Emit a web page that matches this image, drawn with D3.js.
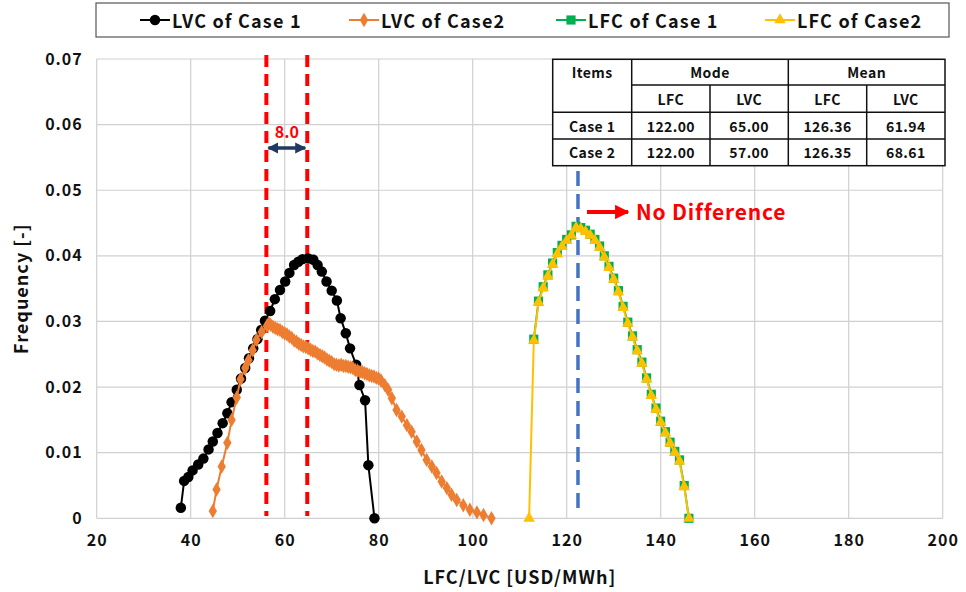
<!DOCTYPE html>
<html>
<head>
<meta charset="utf-8">
<script src="https://cdn.jsdelivr.net/npm/d3@7"></script>
<style>
  body { margin: 0; background: #fff; }
  svg { font-family: "Noto Sans CJK KR", "Open Sans", sans-serif; font-weight: 700; }
</style>
</head>
<body>
<div id="output"></div>
<script>
// LVC of Case 1 (black circles)
const lvc1X = [37.9, 38.6, 39.5, 40.4, 41.6, 42.7, 43.8, 44.7, 45.7, 46.8, 47.8, 48.7, 49.8, 50.7, 51.6, 52.4, 53.3, 54.2, 55.0, 55.8,
               56.9, 57.9, 59.0, 60.1, 61.0, 62.0, 62.9, 63.8, 65.0, 66.1, 67.0, 67.9, 68.9, 70.0, 71.1, 71.9, 73.0, 73.9, 75.2, 75.9,
               77.1, 77.8, 79.1];
const lvc1Y = [0.0016, 0.0057, 0.0063, 0.0073, 0.0082, 0.0091, 0.0105, 0.0117, 0.0130, 0.0145, 0.0160, 0.0177, 0.0196, 0.0213, 0.0229, 0.0244, 0.0259, 0.0273, 0.0287, 0.0301,
               0.0316, 0.0334, 0.0348, 0.0361, 0.0374, 0.0386, 0.0391, 0.0395, 0.0396, 0.0394, 0.0386, 0.0376, 0.0361, 0.0347, 0.0332, 0.0305, 0.0282, 0.0259, 0.0234, 0.0203,
               0.0180, 0.0081, 0.0000];

// LVC of Case2 (orange diamonds)
const lvc2X = [44.7, 45.5, 46.6, 47.8, 48.7, 49.8, 50.6, 51.6, 52.3, 53.2, 54.0, 55.1, 56.2, 56.6,
               57.0, 57.5, 58.0, 58.5, 59.0, 59.5, 60.0, 60.5, 61.0, 61.5, 62.0, 62.5, 63.0, 63.5, 64.0, 64.5,
               65.0, 65.5, 66.0, 66.5, 67.0, 67.5, 68.0, 68.5, 69.0, 69.5, 70.0, 70.5, 71.0, 71.5, 72.0, 72.5,
               73.0, 73.5, 74.0, 74.5, 75.0, 75.5, 76.0, 76.5, 77.0, 77.5, 78.0, 78.5, 79.0, 79.5, 80.0, 80.5,
               81.3, 82.0, 82.8, 83.8, 84.9, 86.0, 87.0, 88.1, 89.1, 90.2, 91.3, 92.3, 93.4, 94.5, 95.5, 96.6,
               98.0, 99.4, 100.9, 102.3, 104.0];
const lvc2Y = [0.0011, 0.0044, 0.0079, 0.0115, 0.0150, 0.0184, 0.0212, 0.0229, 0.0241, 0.0256, 0.0272, 0.0284, 0.0293, 0.0297,
               0.0295, 0.0292, 0.0290, 0.0288, 0.0287, 0.0284, 0.0282, 0.0280, 0.0277, 0.0275, 0.0271, 0.0269, 0.0266, 0.0264, 0.0262, 0.0261,
               0.0259, 0.0257, 0.0255, 0.0254, 0.0251, 0.0249, 0.0247, 0.0245, 0.0242, 0.0240, 0.0238, 0.0235, 0.0234, 0.0233, 0.0234, 0.0232,
               0.0232, 0.0231, 0.0230, 0.0229, 0.0226, 0.0225, 0.0223, 0.0223, 0.0221, 0.0220, 0.0218, 0.0217, 0.0216, 0.0214, 0.0213, 0.0210,
               0.0203, 0.0196, 0.0183, 0.0165, 0.0155, 0.0142, 0.0132, 0.0117, 0.0104, 0.0089, 0.0079, 0.0069, 0.0056, 0.0046, 0.0036, 0.0028,
               0.0020, 0.0013, 0.0009, 0.0005, 0.0000];

// LFC of Case 1 (green squares)
const lfc1X = [113, 114, 115, 116, 117, 118, 119, 120, 121, 122, 123, 124, 125, 126, 127, 128, 129, 130, 131, 132,
               133, 134, 135, 136, 137, 138, 139, 140, 141, 142, 143, 144, 145, 146];
const lfc1Y = [0.0273, 0.0331, 0.0353, 0.0371, 0.0389, 0.0405, 0.0416, 0.0425, 0.0432, 0.0445, 0.0443, 0.0439, 0.0433, 0.0425, 0.0415, 0.0400, 0.0384, 0.0366, 0.0347, 0.0323,
               0.0299, 0.0278, 0.0257, 0.0238, 0.0214, 0.0189, 0.0168, 0.0148, 0.0132, 0.0116, 0.0102, 0.0089, 0.0050, 0.0000];

// LFC of Case2 (yellow triangles)
const lfc2X = [112, 113, 114, 115, 116, 117, 118, 119, 120, 121, 122, 123, 124, 125, 126, 127, 128, 129, 130, 131, 132,
               133, 134, 135, 136, 137, 138, 139, 140, 141, 142, 143, 144, 145, 146];
const lfc2Y = [0.0000, 0.0271, 0.0329, 0.0351, 0.0369, 0.0387, 0.0403, 0.0414, 0.0423, 0.0431, 0.0443, 0.0441, 0.0437, 0.0431, 0.0423, 0.0413, 0.0398, 0.0382, 0.0364, 0.0345, 0.0321,
               0.0297, 0.0276, 0.0255, 0.0236, 0.0212, 0.0187, 0.0166, 0.0146, 0.0130, 0.0114, 0.0100, 0.0087, 0.0048, 0.0000];

const xTicks = [20, 40, 60, 80, 100, 120, 140, 160, 180, 200];
const yTicks = [0, 0.01, 0.02, 0.03, 0.04, 0.05, 0.06, 0.07];

const seriesNames = ["LVC of Case 1", "LVC of Case2", "LFC of Case 1", "LFC of Case2"];

// summary table
const tableHead1 = ["Items", "Mode", "Mean"];
const tableHead2 = ["LFC", "LVC", "LFC", "LVC"];
const tableRows = [
  ["Case 1", "122.00", "65.00", "126.36", "61.94"],
  ["Case 2", "122.00", "57.00", "126.35", "68.61"]
];

// annotation positions (x in data units)
const modeLines = [56.1, 64.8];
const modeGap = "8.0";
const lfcModeLine = 122.4;

const width = 966, height = 592;
const plot = {left: 96.7, right: 942.7, top: 59, bottom: 518.3};

const x = d3.scaleLinear().domain([20, 200]).range([plot.left, plot.right]);
const y = d3.scaleLinear().domain([0, 0.07]).range([plot.bottom, plot.top]);

const series = [
  {name: seriesNames[0], xs: lvc1X, ys: lvc1Y, color: "#000000", shape: d3.symbolCircle, size: 86},
  {name: seriesNames[1], xs: lvc2X, ys: lvc2Y, color: "#ED7D31", shape: d3.symbolDiamond, size: 60},
  {name: seriesNames[2], xs: lfc1X, ys: lfc1Y, color: "#00B050", shape: d3.symbolSquare, size: 84},
  {name: seriesNames[3], xs: lfc2X, ys: lfc2Y, color: "#FFC000", shape: d3.symbolTriangle, size: 58}
];

const svg = d3.select("#output").append("svg")
    .attr("width", width)
    .attr("height", height);

// gridlines
svg.append("g")
    .attr("stroke", "#d0d0d0")
    .attr("stroke-width", 1.2)
    .selectAll("line.v")
    .data(xTicks)
    .join("line")
    .attr("x1", d => x(d)).attr("x2", d => x(d))
    .attr("y1", plot.top).attr("y2", plot.bottom);

svg.append("g")
    .attr("stroke", "#d0d0d0")
    .attr("stroke-width", 1.2)
    .selectAll("line.h")
    .data(yTicks)
    .join("line")
    .attr("x1", plot.left).attr("x2", plot.right)
    .attr("y1", d => y(d)).attr("y2", d => y(d));

// axes (labels only, Excel style)
const xAxis = svg.append("g")
    .attr("transform", `translate(0,${plot.bottom})`)
    .call(d3.axisBottom(x).tickValues(xTicks).tickSize(0).tickPadding(16));
const yAxis = svg.append("g")
    .attr("transform", `translate(${plot.left},0)`)
    .call(d3.axisLeft(y).tickValues(yTicks).tickSize(0).tickPadding(14)
        .tickFormat(d => d === 0 ? "0" : d3.format(".2f")(d)));
[xAxis, yAxis].forEach(a => {
    a.select(".domain").remove();
    a.selectAll("text")
        .attr("font-family", "'Noto Sans CJK KR', sans-serif")
        .attr("font-weight", 700)
        .attr("font-size", 16)
        .attr("letter-spacing", 1)
        .attr("fill", "#111");
});

svg.append("text")
    .attr("x", (plot.left + plot.right) / 2)
    .attr("y", 584)
    .attr("text-anchor", "middle")
    .attr("font-size", 18)
    .attr("letter-spacing", 1)
    .attr("fill", "#111")
    .text("LFC/LVC [USD/MWh]");

svg.append("text")
    .attr("transform", `translate(28,${(plot.top + plot.bottom) / 2}) rotate(-90)`)
    .attr("text-anchor", "middle")
    .attr("font-size", 18)
    .attr("letter-spacing", 1)
    .attr("fill", "#111")
    .text("Frequency [-]");

// red dashed mode lines
svg.append("g")
    .selectAll("line")
    .data(modeLines)
    .join("line")
    .attr("x1", d => x(d)).attr("x2", d => x(d))
    .attr("y1", 55).attr("y2", 516)
    .attr("stroke", "#FF0000")
    .attr("stroke-width", 4)
    .attr("stroke-dasharray", "12,7");

// blue dashed LFC mode line
svg.append("line")
    .attr("x1", x(lfcModeLine)).attr("x2", x(lfcModeLine))
    .attr("y1", 171).attr("y2", 514)
    .attr("stroke", "#4472C4")
    .attr("stroke-width", 3.5)
    .attr("stroke-dasharray", "15,8");

// series
const line = d3.line().x(d => x(d[0])).y(d => y(d[1]));
series.forEach(s => {
    const pts = s.xs.map((v, i) => [v, s.ys[i]]);
    const g = svg.append("g");
    g.append("path")
        .datum(pts)
        .attr("fill", "none")
        .attr("stroke", s.color)
        .attr("stroke-width", 2)
        .attr("d", line);
    g.selectAll("path.m")
        .data(pts)
        .join("path")
        .attr("class", "m")
        .attr("transform", d => `translate(${x(d[0])},${y(d[1])})`)
        .attr("fill", s.color)
        .attr("d", d3.symbol(s.shape, s.size));
});

// double arrow with gap label
const arrowY = 148;
const defs = svg.append("defs");
defs.append("marker")
    .attr("id", "navy-head")
    .attr("viewBox", "0 -5 10 10")
    .attr("refX", 9).attr("refY", 0)
    .attr("markerWidth", 3.2).attr("markerHeight", 3.2)
    .attr("orient", "auto-start-reverse")
    .append("path")
    .attr("fill", "#203864")
    .attr("d", "M0,-5L10,0L0,5Z");
defs.append("marker")
    .attr("id", "red-head")
    .attr("viewBox", "0 -5 10 10")
    .attr("refX", 9).attr("refY", 0)
    .attr("markerWidth", 3.6).attr("markerHeight", 3.6)
    .attr("orient", "auto")
    .append("path")
    .attr("fill", "#FF0000")
    .attr("d", "M0,-5L10,0L0,5Z");

svg.append("line")
    .attr("x1", x(modeLines[0]) + 2).attr("x2", x(modeLines[1]) - 2)
    .attr("y1", arrowY).attr("y2", arrowY)
    .attr("stroke", "#203864")
    .attr("stroke-width", 3.5)
    .attr("marker-start", "url(#navy-head)")
    .attr("marker-end", "url(#navy-head)");

svg.append("text")
    .attr("x", (x(modeLines[0]) + x(modeLines[1])) / 2)
    .attr("y", 138)
    .attr("text-anchor", "middle")
    .attr("font-size", 16)
    .attr("fill", "#FF0000")
    .text(modeGap);

// "No Difference" arrow
svg.append("line")
    .attr("x1", 587).attr("x2", 628)
    .attr("y1", 212).attr("y2", 212)
    .attr("stroke", "#FF0000")
    .attr("stroke-width", 4)
    .attr("marker-end", "url(#red-head)");

svg.append("text")
    .attr("x", 636)
    .attr("y", 220)
    .attr("font-size", 21)
    .attr("letter-spacing", 0.8)
    .attr("fill", "#FF0000")
    .text("No Difference");

// table
const colX = [552.7, 631.7, 710, 788.3, 866.7, 945];
const rowY = [59.3, 85, 112.3, 139, 165.7];
const tbl = svg.append("g")
    .attr("font-size", 14)
    .attr("letter-spacing", 0.4)
    .attr("fill", "#111");

tbl.append("rect")
    .attr("x", colX[0]).attr("y", rowY[0])
    .attr("width", colX[5] - colX[0]).attr("height", rowY[4] - rowY[0])
    .attr("fill", "#fff")
    .attr("stroke", "#111")
    .attr("stroke-width", 1.5);

const tLine = (x1, y1, x2, y2) => tbl.append("line")
    .attr("x1", x1).attr("y1", y1).attr("x2", x2).attr("y2", y2)
    .attr("stroke", "#111").attr("stroke-width", 1.5);

tLine(colX[1], rowY[0], colX[1], rowY[4]);
tLine(colX[3], rowY[0], colX[3], rowY[4]);
tLine(colX[2], rowY[1], colX[2], rowY[4]);
tLine(colX[4], rowY[1], colX[4], rowY[4]);
tLine(colX[1], rowY[1], colX[5], rowY[1]);
tLine(colX[0], rowY[2], colX[5], rowY[2]);
tLine(colX[0], rowY[3], colX[5], rowY[3]);

const cell = (cx, cy, t) => tbl.append("text")
    .attr("x", cx).attr("y", cy)
    .attr("text-anchor", "middle")
    .attr("dominant-baseline", "central")
    .text(t);

cell((colX[0] + colX[1]) / 2, (rowY[0] + rowY[1]) / 2, tableHead1[0]);
cell((colX[1] + colX[3]) / 2, (rowY[0] + rowY[1]) / 2, tableHead1[1]);
cell((colX[3] + colX[5]) / 2, (rowY[0] + rowY[1]) / 2, tableHead1[2]);
tableHead2.forEach((t, i) => cell((colX[i + 1] + colX[i + 2]) / 2, (rowY[1] + rowY[2]) / 2, t));
tableRows.forEach((r, ri) => {
    r.forEach((t, ci) => cell((colX[ci] + colX[ci + 1]) / 2, (rowY[ri + 2] + rowY[ri + 3]) / 2, t));
});

// legend
const legend = svg.append("g");
legend.append("rect")
    .attr("x", 96).attr("y", 3)
    .attr("width", 853).attr("height", 34)
    .attr("fill", "#fff")
    .attr("stroke", "#555")
    .attr("stroke-width", 1.2);

const legendX = [140, 349, 556, 765];
series.forEach((s, i) => {
    const g = legend.append("g").attr("transform", `translate(${legendX[i]},20)`);
    g.append("line")
        .attr("x1", 0).attr("x2", 30)
        .attr("stroke", s.color).attr("stroke-width", 2);
    g.append("path")
        .attr("transform", "translate(15,0)")
        .attr("fill", s.color)
        .attr("d", d3.symbol(s.shape, s.size));
    g.append("text")
        .attr("x", 32).attr("y", 0)
        .attr("dominant-baseline", "central")
        .attr("font-size", 18)
        .attr("letter-spacing", 1.2)
        .attr("fill", "#111")
        .text(s.name);
});
</script>
</body>
</html>
